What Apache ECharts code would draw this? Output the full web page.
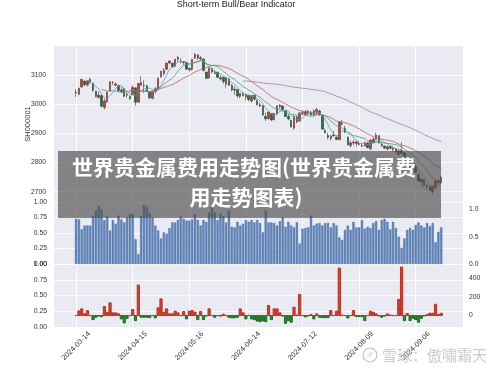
<!DOCTYPE html>
<html><head><meta charset="utf-8">
<script src="https://cdn.jsdelivr.net/npm/echarts@6/dist/echarts.min.js"></script>
<style>html,body{margin:0;padding:0;background:#fff}#c{width:500px;height:370px}</style>
</head><body><div id="c"></div>
<script>
const dates = ['2024-03-14','2024-03-15','2024-03-18','2024-03-19','2024-03-20','2024-03-21','2024-03-22','2024-03-25','2024-03-26','2024-03-27',
'2024-03-28','2024-03-29','2024-04-01','2024-04-02','2024-04-03','2024-04-08','2024-04-09','2024-04-10','2024-04-11','2024-04-12',
'2024-04-15','2024-04-16','2024-04-17','2024-04-18','2024-04-19','2024-04-22','2024-04-23','2024-04-24','2024-04-25','2024-04-26',
'2024-04-29','2024-04-30','2024-05-06','2024-05-07','2024-05-08','2024-05-09','2024-05-10','2024-05-13','2024-05-14','2024-05-15',
'2024-05-16','2024-05-17','2024-05-20','2024-05-21','2024-05-22','2024-05-23','2024-05-24','2024-05-27','2024-05-28','2024-05-29',
'2024-05-30','2024-05-31','2024-06-03','2024-06-04','2024-06-05','2024-06-06','2024-06-07','2024-06-11','2024-06-12','2024-06-13',
'2024-06-14','2024-06-17','2024-06-18','2024-06-19','2024-06-20','2024-06-21','2024-06-24','2024-06-25','2024-06-26','2024-06-27',
'2024-06-28','2024-07-01','2024-07-02','2024-07-03','2024-07-04','2024-07-05','2024-07-08','2024-07-09','2024-07-10','2024-07-11',
'2024-07-12','2024-07-15','2024-07-16','2024-07-17','2024-07-18','2024-07-19','2024-07-22','2024-07-23','2024-07-24','2024-07-25',
'2024-07-26','2024-07-29','2024-07-30','2024-07-31','2024-08-01','2024-08-02','2024-08-05','2024-08-06','2024-08-07','2024-08-08',
'2024-08-09','2024-08-12','2024-08-13','2024-08-14','2024-08-15','2024-08-16','2024-08-19','2024-08-20','2024-08-21','2024-08-22',
'2024-08-23','2024-08-26','2024-08-27','2024-08-28','2024-08-29','2024-08-30','2024-09-02','2024-09-03','2024-09-04','2024-09-05',
'2024-09-06','2024-09-09','2024-09-10','2024-09-11','2024-09-12','2024-09-13','2024-09-18','2024-09-19','2024-09-20','2024-09-23'];

const opens = [3041,3034,3059,3079,3066,3085,3072,3044,3022,3030,
2989,3008,3045,3074,3065,3064,3042,3053,3031,3026,
3032,3056,3007,3065,3063,3063,3042,3020,3044,3053,
3093,3115,3120,3141,3140,3130,3160,3147,3143,3142,
3118,3120,3158,3169,3156,3155,3110,3090,3122,3105,
3109,3091,3092,3068,3086,3064,3048,3050,3027,3034,
3025,3030,3011,3030,3012,2993,2995,2958,2951,2968,
2947,2968,2991,2994,2977,2958,2945,2918,2955,2942,
2969,2965,2970,2973,2964,2972,2977,2961,2909,2893,
2882,2894,2887,2879,2934,2917,2887,2858,2867,2865,
2865,2856,2857,2867,2847,2870,2880,2892,2862,2856,
2846,2855,2845,2847,2828,2830,2834,2809,2795,2785,
2788,2760,2733,2740,2722,2717,2701,2714,2731,2731];

const closes = [3038,3055,3085,3067,3080,3077,3048,3026,3031,2993,
3011,3041,3077,3075,3069,3047,3049,3027,3034,3019,
3057,3007,3071,3074,3065,3045,3022,3045,3053,3089,
3113,3105,3141,3148,3128,3154,3155,3148,3146,3120,
3122,3154,3171,3158,3159,3116,3089,3124,3110,3111,
3092,3087,3078,3091,3065,3049,3051,3028,3037,3029,
3033,3016,3030,3018,2998,2998,2963,2950,2973,2946,
2967,2995,2997,2982,2958,2950,2922,2959,2939,2970,
2971,2974,2976,2963,2977,2982,2964,2915,2902,2886,
2891,2892,2879,2939,2932,2905,2861,2867,2870,2870,
2862,2858,2868,2851,2877,2879,2894,2867,2857,2849,
2854,2849,2849,2837,2840,2842,2811,2803,2784,2788,
2766,2736,2744,2722,2717,2704,2717,2736,2737,2749];

const lows = [3025,3031,3057,3061,3060,3074,3042,3023,3021,2989,
2982,3005,3045,3066,3061,3044,3038,3025,3022,3015,
3030,2995,3005,3063,3038,3042,3017,3017,3036,3052,
3092,3098,3117,3137,3125,3127,3146,3140,3135,3119,
3112,3116,3155,3151,3148,3112,3086,3088,3106,3103,
3090,3082,3070,3057,3062,3044,3032,3023,3020,3027,
3013,3010,3006,3012,2996,2990,2960,2943,2945,2942,
2945,2962,2985,2978,2956,2945,2921,2913,2935,2941,
2964,2962,2965,2960,2958,2962,2960,2913,2900,2880,
2875,2888,2876,2876,2928,2900,2858,2852,2859,2855,
2858,2853,2855,2849,2843,2868,2878,2865,2855,2846,
2842,2846,2837,2834,2823,2829,2808,2800,2782,2780,
2765,2735,2715,2717,2706,2702,2689,2710,2728,2726];

const highs = [3051,3056,3086,3082,3080,3090,3072,3046,3043,3031,
3018,3043,3078,3079,3074,3067,3059,3056,3042,3031,
3065,3056,3071,3096,3082,3066,3044,3045,3059,3092,
3114,3123,3141,3150,3142,3155,3166,3158,3148,3143,
3127,3155,3174,3170,3165,3156,3111,3125,3125,3118,
3112,3099,3094,3092,3090,3069,3061,3050,3038,3042,
3035,3033,3030,3033,3016,3005,2996,2971,2973,2969,
2971,2995,3000,2995,2980,2965,2946,2960,2962,2972,
2980,2980,2981,2977,2982,2987,2980,2964,2916,2902,
2895,2908,2893,2940,2947,2926,2889,2875,2876,2877,
2875,2866,2871,2869,2878,2886,2902,2893,2870,2859,
2858,2860,2855,2850,2843,2870,2838,2817,2799,2798,
2792,2762,2747,2741,2725,2719,2718,2742,2743,2754];

const ratio = [0.73,0.72,0.56,0.62,0.62,0.62,0.77,0.86,0.94,0.88,
0.71,0.77,0.54,0.71,0.65,0.78,0.72,0.67,0.75,0.81,
0.81,0.40,0.16,0.77,0.95,0.92,0.82,0.75,0.62,0.54,
0.41,0.51,0.49,0.58,0.67,0.67,0.71,0.77,0.73,0.70,
0.70,0.72,0.80,0.71,0.62,0.71,0.68,0.83,0.92,0.83,
0.71,0.81,0.77,0.67,0.86,0.60,0.59,0.68,0.62,0.65,
0.71,0.68,0.71,0.67,0.71,0.66,0.51,0.86,0.67,0.67,
0.66,0.62,0.69,0.75,0.60,0.68,0.62,0.59,0.67,0.33,
0.57,0.58,0.59,0.78,0.62,0.65,0.66,0.62,0.66,0.66,
0.59,0.66,0.62,0.43,0.39,0.55,0.62,0.55,0.68,0.59,
0.59,0.71,0.57,0.60,0.58,0.66,0.69,0.55,0.71,0.73,
0.68,0.56,0.68,0.58,0.44,0.26,0.41,0.55,0.58,0.55,
0.63,0.67,0.62,0.59,0.66,0.61,0.66,0.35,0.52,0.59];

const signal = [0,50,72,18,54,0,-43,-18,-5,-11,
97,36,137,29,29,18,-36,-79,-29,0,
65,-54,328,-18,-18,-18,-22,0,-25,83,
180,36,72,18,18,47,29,0,43,-36,
47,54,36,-43,43,-43,-5,72,0,-18,
0,-5,14,0,-18,-25,-25,-18,72,29,
-36,3,-36,-43,-60,-65,-58,-65,108,-43,
72,72,29,-5,-83,-54,-72,90,5,227,
0,-14,-3,11,-36,18,-18,-22,-22,-22,
54,0,47,511,5,0,-25,0,54,-11,
-11,-11,-54,0,47,36,18,-3,-18,-5,
18,5,0,0,173,522,-54,22,-54,-29,
-43,-72,-29,-3,11,25,25,122,11,25];

const priceTicks = [2700, 2800, 2900, 3000, 3100];
const dateTickIdx = [0, 20, 40, 60, 80, 100, 120];
const ratioRightTicks = [0, 0.5, 1.0];
const signalRightTicks = [0, 200, 400];
const maPeriods = [5, 10, 20, 60];
const maColors = ['#5e9fbf', '#4f9a70', '#b45f66', '#9882aa'];

const FONT = 'Liberation Sans';
const LBL = '#333';
const TICK_FS = 6.8;

function movingAverage(p) {
  const out = [];
  for (let i = p - 1; i < closes.length; i++) {
    let s = 0;
    for (let j = i - p + 1; j <= i; j++) s += closes[j];
    out.push([i, s / p]);
  }
  return out;
}

const candles = closes.map((c, i) => [i, opens[i], c, lows[i], highs[i]]);
const ratioData = ratio.map((v, i) => [i, v]);
const signalData = signal.map((v, i) => ({
  value: [i, v],
  itemStyle: { color: v >= 0 ? '#d8402f' : '#2e8a2e', borderColor: v >= 0 ? '#b8301f' : '#1f6a1f' }
}));

const X_MIN = -7.8, X_MAX = 136.7;
function makeX(gi, showLabel) {
  return {
    type: 'value', gridIndex: gi, min: X_MIN, max: X_MAX,
    axisLine: { show: false },
    axisTick: { show: false, customValues: dateTickIdx },
    axisLabel: {
      show: showLabel, customValues: dateTickIdx, formatter: v => dates[v],
      rotate: 45, fontSize: 7.3, color: LBL, fontFamily: FONT, margin: 19,
      align: 'center', verticalAlign: 'middle'
    },
    splitLine: { show: true, lineStyle: { color: '#ffffff', width: 0.9 } }
  };
}
const gridBase = { left: 54, width: 409, show: true, backgroundColor: '#eaeaf2', borderWidth: 0 };

const chart = echarts.init(document.getElementById('c'));
chart.setOption({
  animation: false,
  textStyle: { fontFamily: FONT },
  grid: [
    Object.assign({ top: 46, height: 156 }, gridBase),
    Object.assign({ top: 202, height: 62 }, gridBase),
    Object.assign({ top: 264, height: 63 }, gridBase)
  ],
  xAxis: [makeX(0, false), makeX(1, false), makeX(2, true)],
  yAxis: [
    { type: 'value', gridIndex: 0, min: 2664.7, max: 3199.4,
      name: 'SH000001', nameLocation: 'middle', nameGap: 22, nameMoveOverlap: false,
      nameTextStyle: { fontSize: 7.5, color: LBL, fontFamily: FONT },
      axisLine: { show: false }, axisTick: { show: false, customValues: priceTicks },
      axisLabel: { customValues: priceTicks, formatter: v => String(v), fontSize: TICK_FS, color: LBL, margin: 8, fontFamily: FONT },
      splitLine: { show: true, lineStyle: { color: '#ffffff', width: 0.9 } } },
    { type: 'value', gridIndex: 1, min: 0, max: 1, interval: 0.25,
      axisLine: { show: false }, axisTick: { show: false },
      axisLabel: { formatter: v => v.toFixed(2), fontSize: TICK_FS, color: LBL, margin: 7, fontFamily: FONT },
      splitLine: { show: true, lineStyle: { color: '#ffffff', width: 0.9 } } },
    { type: 'value', gridIndex: 1, position: 'right', min: 0, max: 1.133,
      axisLine: { show: false }, axisTick: { show: false, customValues: ratioRightTicks },
      axisLabel: { customValues: ratioRightTicks, formatter: v => v.toFixed(1), fontSize: TICK_FS, color: LBL, margin: 6, fontFamily: FONT },
      splitLine: { show: false } },
    { type: 'value', gridIndex: 2, min: 0, max: 1, interval: 0.25,
      axisLine: { show: false }, axisTick: { show: false },
      axisLabel: { formatter: v => v.toFixed(2), fontSize: TICK_FS, color: LBL, margin: 7, fontFamily: FONT },
      splitLine: { show: true, lineStyle: { color: '#ffffff', width: 0.9 } } },
    { type: 'value', gridIndex: 2, position: 'right', min: -123, max: 555,
      axisLine: { show: false }, axisTick: { show: false, customValues: signalRightTicks },
      axisLabel: { customValues: signalRightTicks, formatter: v => String(v), fontSize: TICK_FS, color: LBL, margin: 6, fontFamily: FONT },
      splitLine: { show: false } }
  ],
  series: [
    { type: 'candlestick', xAxisIndex: 0, yAxisIndex: 0, data: candles,
      encode: { x: 0, y: [1, 2, 3, 4] }, barWidth: 2,
      itemStyle: { color: '#b5473f', color0: '#2f6a3c', borderColor: '#6a2a25', borderColor0: '#1d4427', borderWidth: 0.6 } },
    ...maPeriods.map((p, k) => ({
      type: 'line', xAxisIndex: 0, yAxisIndex: 0, data: movingAverage(p),
      showSymbol: false, symbol: 'none', z: 3,
      lineStyle: { color: maColors[k], width: 0.8 }
    })),
    { type: 'bar', xAxisIndex: 1, yAxisIndex: 1, data: ratioData, barWidth: 2.2,
      itemStyle: { color: '#5f88c0', borderColor: '#3c5f96', borderWidth: 0.4 } },
    { type: 'bar', xAxisIndex: 2, yAxisIndex: 4, data: signalData, barWidth: 2.2 }
  ],
  graphic: [
    { type: 'text', x: 236, y: 5, z: 10,
      style: { text: 'Short-term Bull/Bear Indicator', align: 'center', verticalAlign: 'middle',
               fontSize: 9, fill: '#222', fontFamily: FONT } },
    { type: 'rect', z: 20, shape: { x: 58, y: 151, width: 383, height: 67 },
      style: { fill: 'rgba(78,78,78,0.66)' } },
    { type: 'text', x: 244, y: 167, z: 21,
      style: { text: '世界贵金属费用走势图(世界贵金属费', align: 'center', verticalAlign: 'middle',
               fontSize: 21, fontWeight: 'bold', fill: '#ffffff', fontFamily: 'Noto Sans CJK SC' } },
    { type: 'text', x: 246, y: 197, z: 21,
      style: { text: '用走势图表)', align: 'center', verticalAlign: 'middle',
               fontSize: 21, fontWeight: 'bold', fill: '#ffffff', fontFamily: 'Noto Sans CJK SC' } },
    { type: 'circle', z: 22, shape: { cx: 370, cy: 355, r: 7 },
      style: { fill: 'none', stroke: 'rgba(185,185,185,0.9)', lineWidth: 1.2 } },
    { type: 'text', x: 370, y: 355, z: 22,
      style: { text: '//', align: 'center', verticalAlign: 'middle', fontSize: 8, fontStyle: 'italic',
               fill: 'rgba(185,185,185,0.9)', fontFamily: FONT } },
    { type: 'text', x: 382, y: 355, z: 22,
      style: { text: '雪球：傲嘯霜天', align: 'left', verticalAlign: 'middle',
               fontSize: 15, fill: 'rgba(195,195,195,0.85)', fontFamily: 'Noto Sans CJK SC' } }
  ]
});
</script>
</body></html>
